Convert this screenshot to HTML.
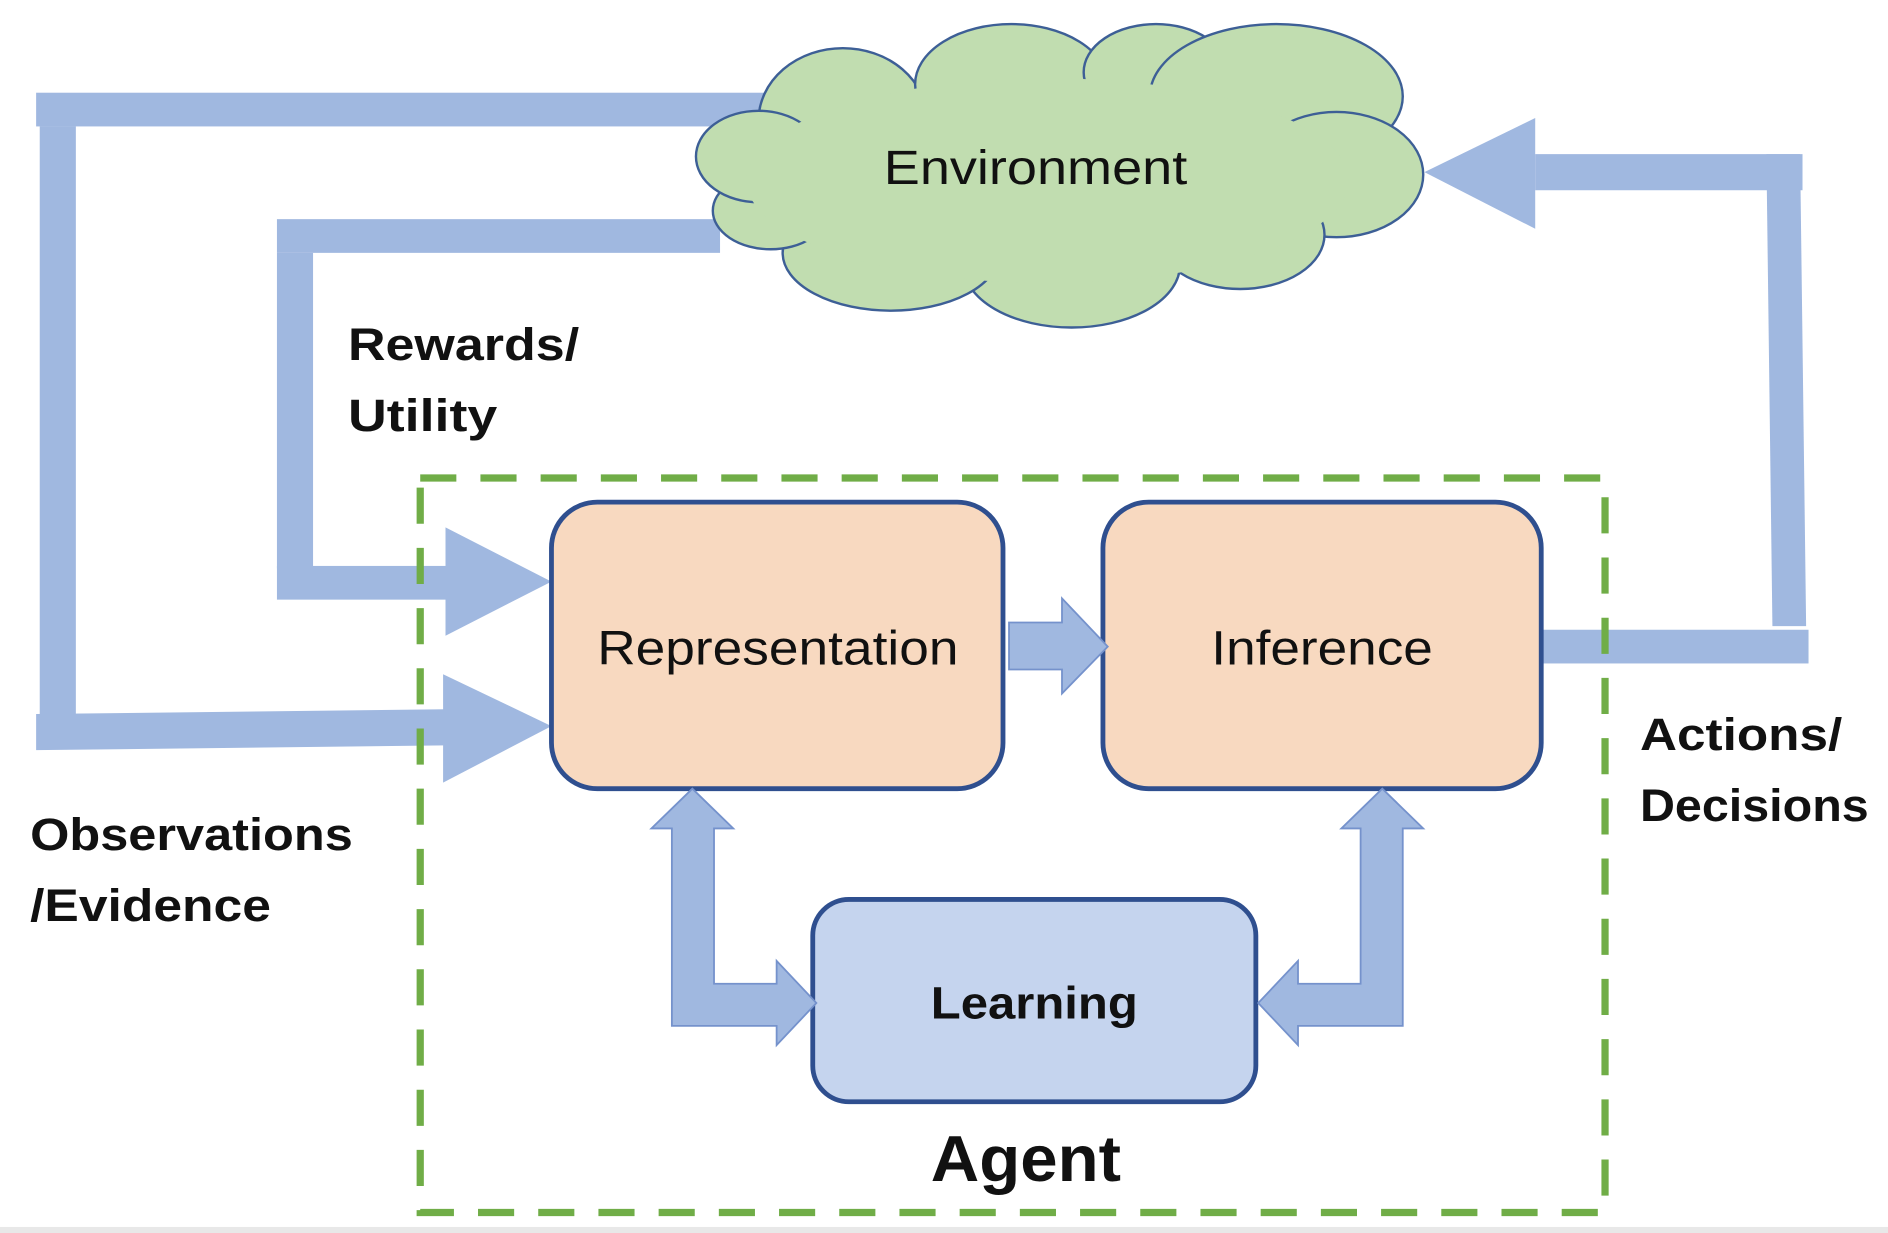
<!DOCTYPE html>
<html><head><meta charset="utf-8"><style>html,body{margin:0;padding:0;background:#fff}svg{display:block}</style></head><body>
<svg width="1888" height="1233" viewBox="0 0 1568 1024" preserveAspectRatio="none" xmlns="http://www.w3.org/2000/svg" font-family="'Liberation Sans', sans-serif">
<rect x="0" y="0" width="1568" height="1024" fill="#fff"/>
<rect x="0" y="1019" width="1568" height="5" fill="#e8e8e8"/>
<g fill="#a0b8e0">
<!-- observations -->
<rect x="30" y="77" width="612" height="28"/>
<rect x="33" y="105" width="30" height="490"/>
<polygon points="30,593 370,589 370,619 30,623"/>
<polygon points="368,560 368,650 458,603"/>
<!-- rewards -->
<rect x="230" y="182" width="368" height="28"/>
<rect x="230" y="210" width="30" height="262"/>
<rect x="230" y="470" width="142" height="28"/>
<polygon points="370,438 370,528 458,483"/>
<!-- actions -->
<rect x="1280" y="523" width="222" height="28"/>
<polygon points="1467,128 1495,128 1500,520 1472,520"/>
<rect x="1275" y="128" width="222" height="30"/>
<polygon points="1275,98 1275,190 1183,143"/>
</g>
<!-- cloud -->
<g fill="#c1ddb0" stroke="#3d5f96" stroke-width="2">
<ellipse cx="700" cy="100" rx="70" ry="60"/>
<ellipse cx="840" cy="70" rx="80" ry="50"/>
<ellipse cx="960" cy="60" rx="60" ry="40"/>
<ellipse cx="1060" cy="80" rx="105" ry="60"/>
<ellipse cx="1110" cy="145" rx="72" ry="52"/>
<ellipse cx="1030" cy="195" rx="70" ry="45"/>
<ellipse cx="890" cy="220" rx="90" ry="52"/>
<ellipse cx="740" cy="210" rx="90" ry="48"/>
<ellipse cx="640" cy="175" rx="48" ry="32"/>
<ellipse cx="630" cy="130" rx="52" ry="38"/>
</g>
<ellipse cx="870" cy="150" rx="250" ry="85" fill="#c1ddb0"/>
<text x="860" y="153" font-size="40" text-anchor="middle" fill="#111" textLength="252" lengthAdjust="spacingAndGlyphs">Environment</text>
<!-- agent box -->
<rect x="349" y="397" width="984" height="610" fill="none" stroke="#70ad47" stroke-width="6" stroke-dasharray="30 20"/>
<!-- boxes -->
<rect x="458" y="417" width="375" height="238" rx="38" fill="#f8d9c0" stroke="#2f4f8f" stroke-width="4"/>
<rect x="916" y="417" width="364" height="238" rx="38" fill="#f8d9c0" stroke="#2f4f8f" stroke-width="4"/>
<rect x="675" y="747" width="368" height="168" rx="30" fill="#c5d4ee" stroke="#2f4f8f" stroke-width="4"/>
<g fill="#a0b8e0" stroke="#7592cc" stroke-width="1.5">
<polygon points="838,517 882,517 882,497 920,537 882,576 882,556 838,556"/>
<polygon points="558,852 558,688 541,688 575,655 609,688 593,688 593,817 645,817 645,798 678,833 645,868 645,852"/>
<polygon points="1165,852 1165,688 1182,688 1148,655 1114,688 1130,688 1130,817 1078,817 1078,798 1045,833 1078,868 1078,852"/>
</g>
<g fill="#111" font-size="40">
<text x="646" y="552" text-anchor="middle" textLength="300" lengthAdjust="spacingAndGlyphs">Representation</text>
<text x="1098" y="552" text-anchor="middle" textLength="184" lengthAdjust="spacingAndGlyphs">Inference</text>
</g>
<g fill="#111" font-weight="bold" font-size="38">
<text x="859" y="846" text-anchor="middle" textLength="172" lengthAdjust="spacingAndGlyphs">Learning</text>
<text x="289" y="299" textLength="192" lengthAdjust="spacingAndGlyphs">Rewards/</text>
<text x="289" y="358" textLength="124" lengthAdjust="spacingAndGlyphs">Utility</text>
<text x="25" y="706" textLength="268" lengthAdjust="spacingAndGlyphs">Observations</text>
<text x="25" y="765" textLength="200" lengthAdjust="spacingAndGlyphs">/Evidence</text>
<text x="1362" y="623" textLength="168" lengthAdjust="spacingAndGlyphs">Actions/</text>
<text x="1362" y="682" textLength="190" lengthAdjust="spacingAndGlyphs">Decisions</text>
<text x="852" y="981" text-anchor="middle" font-size="54" textLength="158" lengthAdjust="spacingAndGlyphs">Agent</text>
</g>
</svg>
</body></html>
